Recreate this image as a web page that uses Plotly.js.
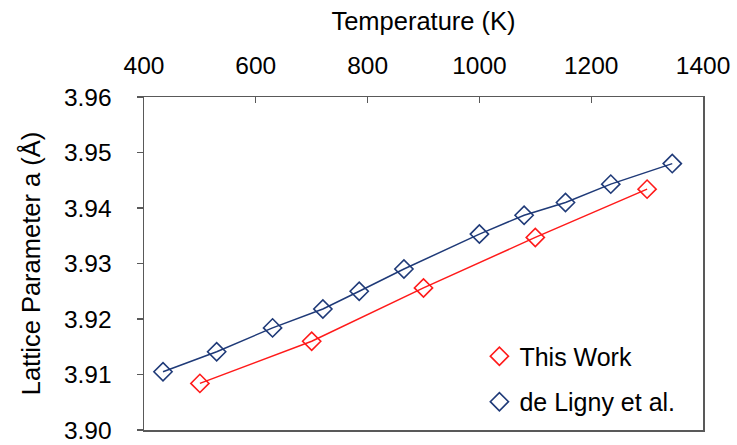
<!DOCTYPE html>
<html>
<head>
<meta charset="utf-8">
<script src="https://cdn.plot.ly/plotly-3.0.1.min.js"></script>
<style>html,body{margin:0;padding:0;background:#fff;}#chart{width:737px;height:445px;}</style>
</head>
<body>
<div id="chart"></div>
<script>
// Data
const thisWorkT = [500, 700, 900, 1100, 1300];
const thisWorkA = [3.9084, 3.9160, 3.9256, 3.9347, 3.9434];
const lignyT = [434, 530, 630, 720, 785, 865, 1000, 1080, 1154, 1235, 1345];
const lignyA = [3.9105, 3.9141, 3.9184, 3.9218, 3.9250, 3.9290, 3.9353, 3.9387, 3.9410, 3.9443, 3.9480];
const seriesNames = ["This Work", "de Ligny et al."];
const xTicks = [400, 600, 800, 1000, 1200, 1400];
const yTicks = [3.90, 3.91, 3.92, 3.93, 3.94, 3.95, 3.96];

const red = "#ff1a1a";
const navy = "#1f3a78";
const font = "Liberation Sans, Arial, sans-serif";
const tickSize = 24.5, xTitleSize = 25.5, yTitleSize = 25.5, legendSize = 25;

const markerStyle = (c) => ({symbol: "diamond-open", size: 14, color: c, line: {width: 1.6, color: c}});

const traces = [
  {x: thisWorkT, y: thisWorkA, mode: "lines+markers", name: seriesNames[0], showlegend: false,
   line: {color: red, width: 1.5}, marker: markerStyle(red)},
  {x: lignyT, y: lignyA, mode: "lines+markers", name: seriesNames[1], showlegend: false,
   line: {color: navy, width: 1.5}, marker: markerStyle(navy)},
  {x: [null], y: [null], mode: "markers", name: seriesNames[0], legendgroup: "a",
   marker: markerStyle(red)},
  {x: [null], y: [null], mode: "markers", name: seriesNames[1], legendgroup: "b",
   marker: markerStyle(navy)}
];

const layout = {
  width: 737, height: 445,
  margin: {l: 144, r: 34, t: 97, b: 15},
  paper_bgcolor: "#fff", plot_bgcolor: "#fff",
  font: {family: font, size: tickSize, color: "#000"},
  xaxis: {
    side: "top", range: [400, 1400], tickvals: xTicks, ticktext: xTicks.map(String),
    ticks: "inside", ticklen: 6, tickcolor: "#595959", tickwidth: 1.3,
    ticklabelstandoff: 12,
    showline: true, linecolor: "#595959", linewidth: 1.5, mirror: true,
    showgrid: false, zeroline: false,
    tickfont: {family: font, size: tickSize, color: "#000"},
    title: {text: "Temperature (K)", font: {family: font, size: xTitleSize, color: "#000"}, standoff: 14}
  },
  yaxis: {
    range: [3.90, 3.96], tickvals: yTicks, ticktext: yTicks.map(v => v.toFixed(2)),
    ticks: "outside", ticklen: 6, tickcolor: "#595959", tickwidth: 1.3,
    ticklabelstandoff: 20,
    showline: true, linecolor: "#595959", linewidth: 1.5, mirror: true,
    showgrid: false, zeroline: false,
    tickfont: {family: font, size: tickSize, color: "#000"},
    title: {text: "Lattice Parameter a (Å)", font: {family: font, size: yTitleSize, color: "#000"}, standoff: 16}
  },
  legend: {
    x: 0.60, y: 0.29, xanchor: "left", yanchor: "top",
    bgcolor: "rgba(0,0,0,0)", borderwidth: 0,
    font: {family: font, size: legendSize, color: "#000"},
    traceorder: "grouped", tracegroupgap: 10
  }
};

Plotly.newPlot("chart", traces, layout, {staticPlot: true, displayModeBar: false});
</script>
</body>
</html>
